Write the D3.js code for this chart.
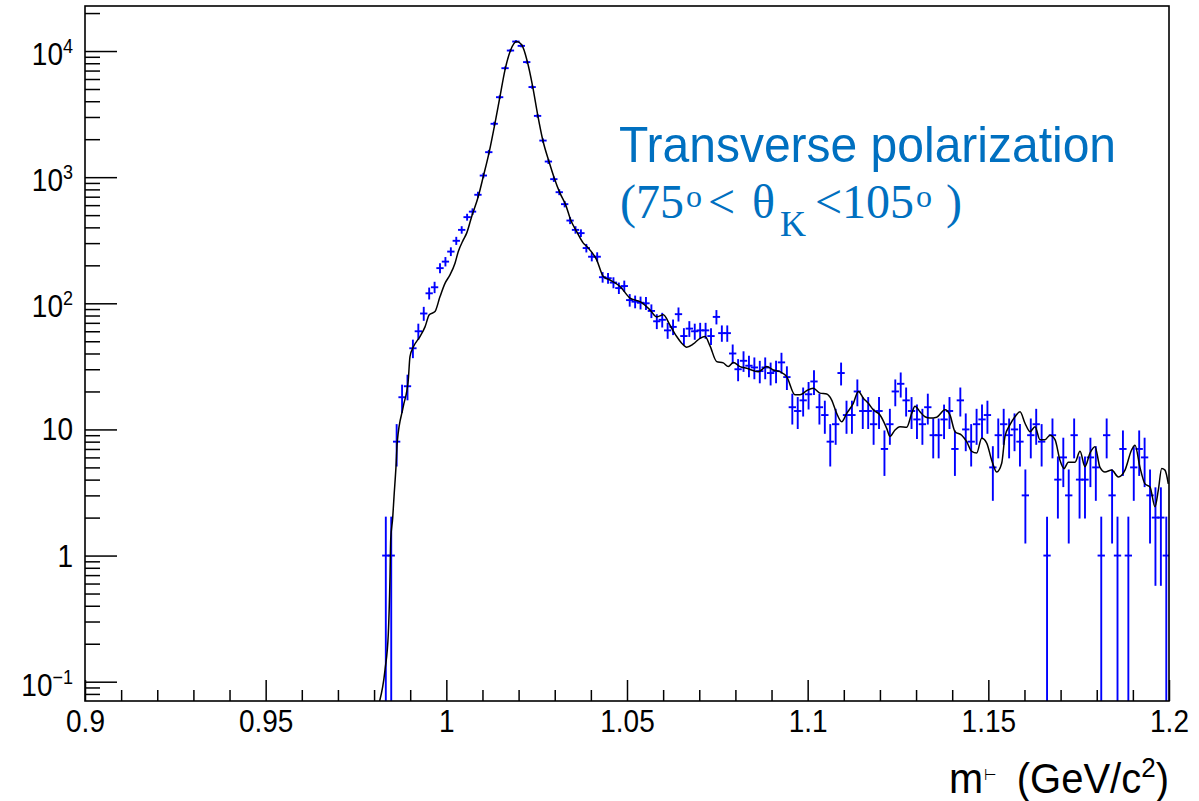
<!DOCTYPE html>
<html>
<head>
<meta charset="utf-8">
<script src="https://cdn.jsdelivr.net/npm/d3@7"></script>
<style>
  body { margin: 0; background: #fff; }
</style>
</head>
<body>
<svg id="chart" width="1199" height="801" font-family="'Liberation Sans', Arial, Helvetica, sans-serif"></svg>
<script>
// histogram: 200 bins from 0.9 to 1.2, first filled bin starts at 0.9825
var binWidth = 0.0015;
var firstBinLow = 0.9825;
var counts = [1,1,8,18,22,44,60,83,120,134,190,214,257,313,382,482,533,725,1030,1578,2650,4305,7310,10090,11890,
  10990,8170,5180,3060,1950,1330,964,760,611,453,382,360,274,234,234,161,158,146,132,137,
  106,103,101,100,87,72,74,61,65,82,55,63,60,61,61,55,78,58,58,40,30,35,32,31,29,31,28,29,34,26,
  15,14,17,19,24,15,13,8,11,28,13,13,20,14,14,11,14,7,11,20,23,17,14,12,11,15,9,9,12,14,
  7,17,10,8,11,12,13,5,9,11,9,10,8,3,9,11,8,1,9,4,6,3,9,4,4,6,5,1,9,3,1,7,1,5,7,6,3,2,2,1];

// simulated curve (black line)
var mcMass = [0.98081,0.98303,0.98394,0.98441,0.98460,0.98516,0.98552,0.98607,0.98643,0.98809,
  0.98947,0.98994,0.99086,0.99271,0.99410,0.99528,0.99686,0.99825,0.99963,1.00101,
  1.00240,1.00331,1.00469,1.00563,1.00702,1.00884,1.01023,1.01189,1.01347,1.01485,
  1.01624,1.01781,1.01947,1.02086,1.02241,1.02390,1.02528,1.02667,1.02841,1.02988,
  1.03146,1.03303,1.03442,1.03608,1.03791,1.03885,1.04161,1.04345,1.04529,1.04806,
  1.05083,1.05360,1.05636,1.05822,1.06005,1.06190,1.06375,1.06513,1.06652,1.06835,
  1.07020,1.07159,1.07297,1.07482,1.07665,1.07804,1.07942,1.08127,1.08313,1.08634,
  1.08866,1.09049,1.09234,1.09419,1.09649,1.09788,1.09973,1.10156,1.10341,1.10527,
  1.10665,1.10803,1.10942,1.11080,1.11263,1.11402,1.11540,1.11679,1.11817,1.12002,
  1.12187,1.12278,1.12417,1.12555,1.12740,1.12879,1.12970,1.13109,1.13247,1.13386,
  1.13571,1.13801,1.13939,1.14078,1.14263,1.14401,1.14540,1.14678,1.14816,1.14955,
  1.15093,1.15231,1.15370,1.15461,1.15600,1.15738,1.15877,1.16015,1.16153,1.16292,
  1.16430,1.16568,1.16707,1.16845,1.16983,1.17094,1.17213,1.17399,1.17537,1.17675,
  1.17814,1.17952,1.18090,1.18229,1.18414,1.18597,1.18782,1.18967,1.19059,1.19197,
  1.19336,1.19474,1.19612,1.19704,1.19798,1.19889,1.19981];
var mcValue = [0.06,0.124,0.24,0.68,1.33,2.0,2.93,5.07,8,15.2,
  24.7,37.8,45,54.5,65,81,86,113,144,168,
  208,257,318,360,488,702,1012,1596,2680,4360,
  7100,10200,11900,11200,8260,5220,3120,1980,1330,982,
  747,603,458,370,300,283,221,163,153,136,
  110,103,88.7,78,81,67,54.5,48.3,44.9,47.6,
  52.8,54.5,46,34.5,33.7,31.5,34,31.5,30.5,28.7,
  31.5,29.6,28.7,26.2,18.8,18.8,20.3,21.2,19.4,19.1,
  17.1,13.4,11.5,13.4,16.1,20,17.7,16.1,14.3,13,
  10.2,8.8,9.9,10.5,10.4,13.4,15.3,13.8,12.6,12.3,
  12.5,14.3,13,9.6,9,8,6.7,6.5,8.5,7.8,
  5.7,4.6,5.4,8.8,10.9,12.6,13.8,11.2,9.6,10.5,
  8.3,8.3,9,8.3,5.7,4.9,5.5,5.5,6.7,5.07,
  6.5,7.3,5,4.6,4.76,4.2,4.76,6.9,7.5,5,
  3.7,3.5,2.44,3.3,4.9,4.76,3.7];

// axis ticks
var xTicks = [0.9, 0.95, 1, 1.05, 1.1, 1.15, 1.2];
var xTickLabels = ["0.9", "0.95", "1", "1.05", "1.1", "1.15", "1.2"];
var yTicks = [0.1, 1, 10, 100, 1000, 10000];
var yTickBase = ["10", "1", "10", "10", "10", "10"];
var yTickExp = ["\u22121", "", "", "2", "3", "4"];

var plotLeft = 85, plotRight = 1169, plotTop = 6, plotBottom = 701;

var svg = d3.select("#chart");

var x = d3.scaleLinear().domain([0.9, 1.2]).range([plotLeft, plotRight]);
var y = d3.scaleLog().domain([0.0703, 22750]).range([plotBottom, plotTop]);

svg.append("defs").append("clipPath").attr("id", "clip")
  .append("rect")
  .attr("x", plotLeft).attr("y", plotTop)
  .attr("width", plotRight - plotLeft).attr("height", plotBottom - plotTop);

// minor tick values
var xMinor = [];
for (var i = 0; i <= 30; i++) {
  if (i % 5 != 0) xMinor.push(0.9 + i * 0.01);
}
var yMinor = [];
for (var d = -2; d <= 4; d++) {
  for (var k = 2; k <= 9; k++) {
    var v = k * Math.pow(10, d);
    if (v > y.domain()[0] && v < y.domain()[1]) yMinor.push(v);
  }
}

// x axis (ticks inside the frame)
var xAxisG = svg.append("g").attr("transform", "translate(0," + plotBottom + ")");
xAxisG.call(d3.axisBottom(x).tickValues(xTicks).tickSize(-21).tickSizeOuter(0)
  .tickFormat(function(d, i) { return xTickLabels[i]; }).tickPadding(8));
xAxisG.append("g").call(d3.axisBottom(x).tickValues(xMinor).tickSize(-11).tickSizeOuter(0).tickFormat(""));
xAxisG.selectAll("path.domain").remove();
xAxisG.selectAll("line").attr("stroke", "#000").attr("stroke-width", 1.5);
xAxisG.selectAll("text").attr("font-size", 28).attr("fill", "#000")
  .attr("font-family", null)
  .attr("transform", "scale(1,1.1)");

// y axis
var yAxisG = svg.append("g").attr("transform", "translate(" + plotLeft + ",0)");
yAxisG.call(d3.axisLeft(y).tickValues(yTicks).tickSize(-32).tickSizeOuter(0).tickFormat(""));
yAxisG.append("g").call(d3.axisLeft(y).tickValues(yMinor).tickSize(-15).tickSizeOuter(0).tickFormat(""));
yAxisG.selectAll("path.domain").remove();
yAxisG.selectAll("line").attr("stroke", "#000").attr("stroke-width", 1.5);

// y labels with exponents
yTicks.forEach(function(t, i) {
  var hasExp = yTickExp[i] != "";
  var txt = svg.append("text")
    .attr("transform", "translate(73," + (y(t) + (hasExp ? 14 : 11)) + ") scale(1,1.1)")
    .attr("text-anchor", "end")
    .attr("font-size", 28)
    .text(yTickBase[i]);
  if (hasExp) {
    txt.append("tspan").attr("font-size", 18).attr("dy", -11).text(yTickExp[i]);
  }
});

// data: error bars
var bins = counts.map(function(n, i) {
  var lo = firstBinLow + i * binWidth;
  return {lo: lo, hi: lo + binWidth, n: n};
}).filter(function(b) { return b.n > 0; });

var dataG = svg.append("g").attr("clip-path", "url(#clip)")
  .attr("stroke", "#0000ff").attr("stroke-width", 1.9).attr("stroke-linecap", "square");

dataG.selectAll(".vbar")
  .data(bins)
  .enter().append("line")
  .attr("class", "vbar")
  .attr("x1", function(b) { return x((b.lo + b.hi) / 2); })
  .attr("x2", function(b) { return x((b.lo + b.hi) / 2); })
  .attr("y1", function(b) { return y(b.n + Math.sqrt(b.n)); })
  .attr("y2", function(b) {
    var low = b.n - Math.sqrt(b.n);
    return low > 0 ? y(low) : plotBottom + 5;
  });

dataG.selectAll(".hbar")
  .data(bins)
  .enter().append("line")
  .attr("class", "hbar")
  .attr("x1", function(b) { return x(b.lo); })
  .attr("x2", function(b) { return x(b.hi); })
  .attr("y1", function(b) { return y(b.n); })
  .attr("y2", function(b) { return y(b.n); });

// simulated line
var mcPoints = mcMass.map(function(m, i) { return [m, mcValue[i]]; });
var line = d3.line()
  .x(function(p) { return x(p[0]); })
  .y(function(p) { return y(p[1]); })
  .curve(d3.curveMonotoneX);

svg.append("path")
  .attr("clip-path", "url(#clip)")
  .attr("d", line(mcPoints))
  .attr("fill", "none")
  .attr("stroke", "#000")
  .attr("stroke-width", 1.5);

// frame
svg.append("rect")
  .attr("x", plotLeft).attr("y", plotTop)
  .attr("width", plotRight - plotLeft).attr("height", plotBottom - plotTop)
  .attr("fill", "none").attr("stroke", "#000").attr("stroke-width", 1.6);

// axis title
svg.append("text")
  .attr("transform", "translate(949,793) scale(1,1.05)")
  .attr("font-size", 41)
  .text("m")
  .append("tspan").attr("font-size", 14).attr("dy", -12).attr("dx", 1).text("\u22a2");

var title = svg.append("text")
  .attr("transform", "translate(1169,793) scale(1,1.05)")
  .attr("text-anchor", "end")
  .attr("font-size", 40)
  .text("(GeV/c");
title.append("tspan").attr("font-size", 26).attr("dy", -15).text("2");
title.append("tspan").attr("dy", 15).text(")");

// annotation
var blue = "#0070c0";
svg.append("text")
  .attr("transform", "translate(619,162) scale(1,1.06)")
  .attr("font-size", 48)
  .attr("fill", blue)
  .text("Transverse polarization");

var cut = svg.append("text")
  .attr("font-family", "'Liberation Serif', 'Times New Roman', serif")
  .attr("font-size", 48)
  .attr("fill", blue);
cut.append("tspan").attr("x", 620).attr("y", 218).text("(75");
cut.append("tspan").attr("x", 686).attr("y", 207).attr("font-size", 32).text("o");
cut.append("tspan").attr("x", 708).attr("y", 218).text("<");
cut.append("tspan").attr("x", 752).attr("y", 218).text("\u03b8");
cut.append("tspan").attr("x", 780).attr("y", 236).attr("font-size", 36).text("K");
cut.append("tspan").attr("x", 815).attr("y", 218).text("<105");
cut.append("tspan").attr("x", 916).attr("y", 207).attr("font-size", 32).text("o");
cut.append("tspan").attr("x", 946).attr("y", 218).text(")");
</script>
</body>
</html>
